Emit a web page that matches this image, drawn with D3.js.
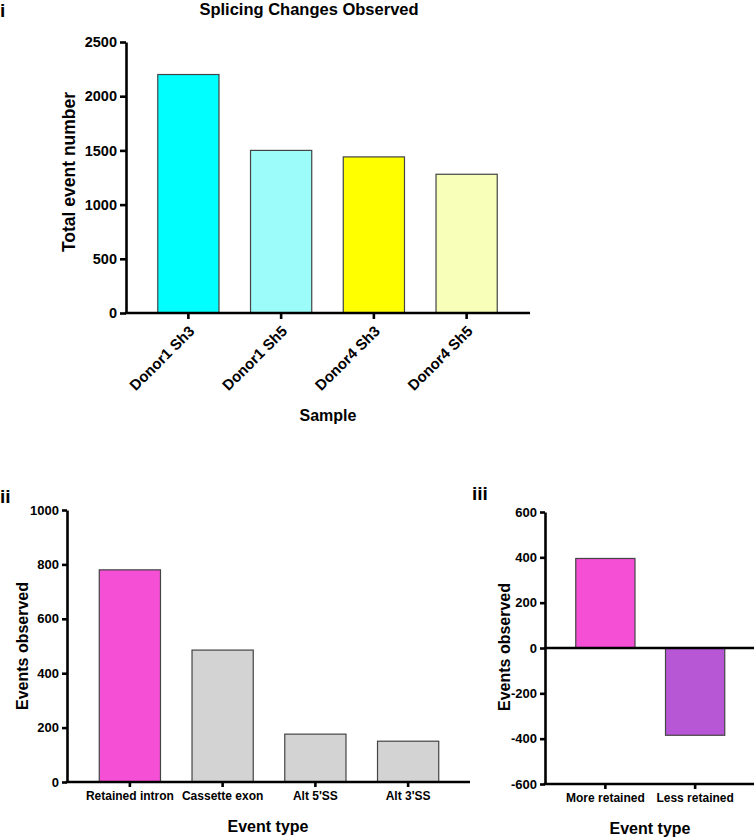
<!DOCTYPE html>
<html><head><meta charset="utf-8">
<script src="https://cdn.jsdelivr.net/npm/d3@7"></script>
<style>
body{margin:0;background:#fff;}
text{font-family:"Liberation Sans",Arial,sans-serif;font-weight:bold;fill:#000;}
</style></head><body>
<svg id="c" width="756" height="838"></svg>
<script>
// Panel i
const samples = ["Donor1 Sh3","Donor1 Sh5","Donor4 Sh3","Donor4 Sh5"];
const sampleTotals = [2200,1500,1440,1280];
const sampleColors = ["#00ffff","#9bfcf9","#ffff00","#f7ffb8"];
const ticksI = [0,500,1000,1500,2000,2500];
// Panel ii
const eventTypes = ["Retained intron","Cassette exon","Alt 5'SS","Alt 3'SS"];
const eventCounts = [780,485,176,150];
const eventColors = ["#f54fd6","#d3d3d3","#d3d3d3","#d3d3d3"];
const ticksII = [0,200,400,600,800,1000];
// Panel iii
const retention = ["More retained","Less retained"];
const retentionCounts = [395,-385];
const retentionColors = ["#f54fd6","#b857d6"];
const ticksIII = [-600,-400,-200,0,200,400,600];

const svg = d3.select("#c");
const AX = 2.6;
const fmt = d => String(d);

function styleAxis(g, fs){
  g.selectAll("path.domain").attr("stroke","#000").attr("stroke-width",AX);
  g.selectAll(".tick line").attr("stroke","#000").attr("stroke-width",AX);
  g.selectAll(".tick text").attr("font-size",fs).attr("font-family","'Liberation Sans',Arial,sans-serif").attr("font-weight","bold").attr("fill","#000");
}

// ---------- Panel i ----------
{
  const y = d3.scaleLinear().domain([0,2500]).range([313,42]);
  const x = d3.scaleBand().domain(samples).range([142,513]).paddingInner(0.34).paddingOuter(0.17);
  const g = svg.append("g");
  g.selectAll("rect").data(samples).join("rect")
    .attr("x",d=>x(d)).attr("width",x.bandwidth())
    .attr("y",(d,i)=>y(sampleTotals[i])).attr("height",(d,i)=>y(0)-y(sampleTotals[i]))
    .attr("fill",(d,i)=>sampleColors[i]).attr("stroke","#444").attr("stroke-width",1.2);
  const ya = g.append("g").attr("transform","translate(126,0)")
    .call(d3.axisLeft(y).tickValues(ticksI).tickFormat(fmt).tickSize(6).tickSizeOuter(0).tickPadding(3));
  styleAxis(ya,14.5);
  g.append("line").attr("x1",126-AX/2).attr("x2",530).attr("y1",313).attr("y2",313).attr("stroke","#000").attr("stroke-width",AX);
  const xa = g.append("g").attr("transform","translate(0,313)")
    .call(d3.axisBottom(x).tickSize(6).tickSizeOuter(0));
  xa.select("path.domain").remove();
  styleAxis(xa,15);
  xa.selectAll(".tick text").attr("text-anchor","end").attr("dy",null).attr("y",0)
    .attr("transform","translate(7,19) rotate(-45)");
  svg.append("text").attr("x",309).attr("y",15).attr("text-anchor","middle").attr("font-size",16.5).text("Splicing Changes Observed");
  svg.append("text").attr("x",0).attr("y",17).attr("font-size",19).text("i");
  svg.append("text").attr("transform","translate(75,172) rotate(-90)").attr("text-anchor","middle").attr("font-size",17.5).text("Total event number");
  svg.append("text").attr("x",328).attr("y",421).attr("text-anchor","middle").attr("font-size",16).text("Sample");
}

// ---------- Panel ii ----------
{
  const y = d3.scaleLinear().domain([0,1000]).range([782,510]);
  const x = d3.scaleBand().domain(eventTypes).range([83.5,454.5]).paddingInner(0.34).paddingOuter(0.17);
  const g = svg.append("g");
  g.selectAll("rect").data(eventTypes).join("rect")
    .attr("x",d=>x(d)).attr("width",x.bandwidth())
    .attr("y",(d,i)=>y(eventCounts[i])).attr("height",(d,i)=>y(0)-y(eventCounts[i]))
    .attr("fill",(d,i)=>eventColors[i]).attr("stroke","#444").attr("stroke-width",1.2);
  const ya = g.append("g").attr("transform","translate(67,0)")
    .call(d3.axisLeft(y).tickValues(ticksII).tickFormat(fmt).tickSize(5).tickSizeOuter(0).tickPadding(3));
  styleAxis(ya,13);
  g.append("line").attr("x1",67-AX/2).attr("x2",470).attr("y1",782).attr("y2",782).attr("stroke","#000").attr("stroke-width",AX);
  const xa = g.append("g").attr("transform","translate(0,782)")
    .call(d3.axisBottom(x).tickSize(5).tickSizeOuter(0).tickPadding(4));
  xa.select("path.domain").remove();
  styleAxis(xa,12);
  svg.append("text").attr("x",0).attr("y",503).attr("font-size",19).text("ii");
  svg.append("text").attr("transform","translate(28,646) rotate(-90)").attr("text-anchor","middle").attr("font-size",16).text("Events observed");
  svg.append("text").attr("x",268).attr("y",832).attr("text-anchor","middle").attr("font-size",16).text("Event type");
}

// ---------- Panel iii ----------
{
  const y = d3.scaleLinear().domain([-600,600]).range([784,512]);
  const x = d3.scaleBand().domain(retention).range([560.5,740]).paddingInner(0.34).paddingOuter(0.17);
  const g = svg.append("g");
  g.selectAll("rect").data(retention).join("rect")
    .attr("x",d=>x(d)).attr("width",x.bandwidth())
    .attr("y",(d,i)=>y(Math.max(0,retentionCounts[i]))).attr("height",(d,i)=>Math.abs(y(retentionCounts[i])-y(0)))
    .attr("fill",(d,i)=>retentionColors[i]).attr("stroke","#444").attr("stroke-width",1.2);
  const ya = g.append("g").attr("transform","translate(545,0)")
    .call(d3.axisLeft(y).tickValues(ticksIII).tickFormat(fmt).tickSize(5).tickSizeOuter(0).tickPadding(3));
  styleAxis(ya,13);
  g.append("line").attr("x1",545).attr("x2",754).attr("y1",y(0)).attr("y2",y(0)).attr("stroke","#000").attr("stroke-width",AX);
  g.append("line").attr("x1",545-AX/2).attr("x2",754).attr("y1",784).attr("y2",784).attr("stroke","#000").attr("stroke-width",AX);
  const xa = g.append("g").attr("transform","translate(0,784)")
    .call(d3.axisBottom(x).tickSize(5).tickSizeOuter(0).tickPadding(4));
  xa.select("path.domain").remove();
  styleAxis(xa,12);
  svg.append("text").attr("x",472).attr("y",500).attr("font-size",19).text("iii");
  svg.append("text").attr("transform","translate(510,647) rotate(-90)").attr("text-anchor","middle").attr("font-size",16).text("Events observed");
  svg.append("text").attr("x",650).attr("y",834).attr("text-anchor","middle").attr("font-size",16).text("Event type");
}
</script></body></html>
